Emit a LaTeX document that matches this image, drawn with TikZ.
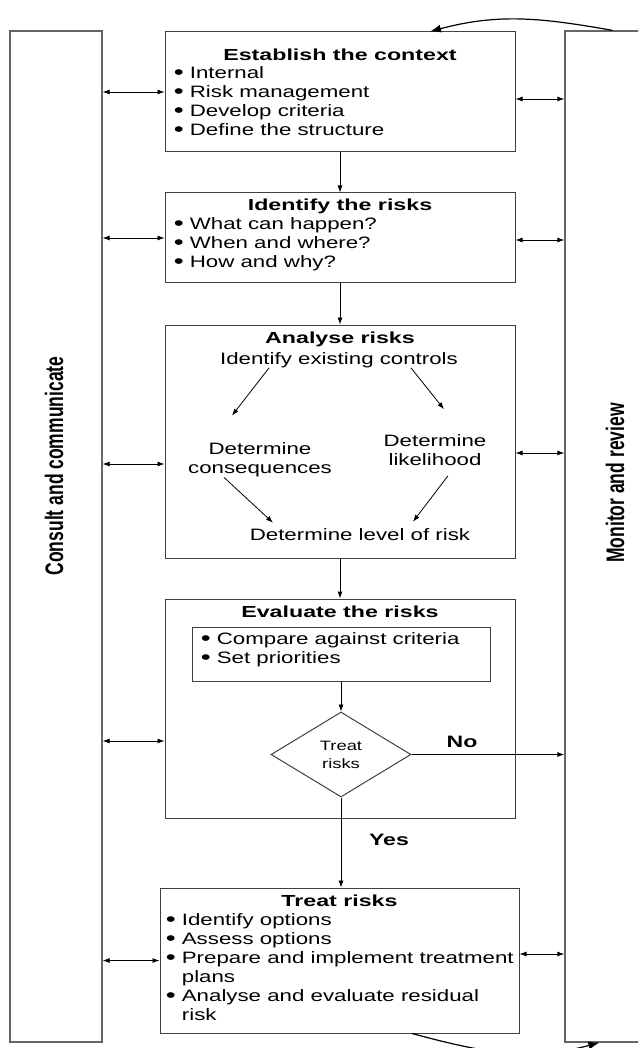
\documentclass[tikz,border=0pt]{standalone}
\usepackage{fontspec}
\setmainfont{Liberation Sans}
\usetikzlibrary{positioning,shapes.geometric,arrows.meta}

\newcommand\blt{\raisebox{-0.08em}{\fontsize{21}{19}\selectfont\textbullet}~}

\tikzset{
	sidebar/.style={draw=black!60, line width=1.3pt, fill=white, inner sep=0pt, minimum height=1011pt},
	sidelabel/.style={rotate=90, font=\bfseries\fontsize{17.5}{22}\selectfont, inner sep=0pt},
	stage/.style={draw=black!75, line width=1pt, inner sep=0pt, minimum width=350pt},
	head/.style={font=\bfseries\fontsize{16}{19}\selectfont, xscale=1.45, inner sep=0pt},
	items/.style={font=\fontsize{16.5}{19}\selectfont, xscale=1.35, align=left, inner sep=0pt},
	plain/.style={font=\fontsize{16.5}{19}\selectfont, xscale=1.35, align=center, inner sep=0pt},
	query/.style={diamond, draw=black!75, line width=1pt, inner sep=0pt, minimum width=140pt, minimum height=85pt},
	qtext/.style={font=\fontsize{13.6}{18}\selectfont, xscale=1.35, align=center, inner sep=0pt},
	answer/.style={font=\bfseries\fontsize{16.5}{19}\selectfont, xscale=1.4, inner sep=0pt},
	flow/.style={-{Latex[length=7pt,width=5pt]}, line width=0.8pt},
	link/.style={{Latex[length=7pt,width=5pt]}-{Latex[length=7pt,width=5pt]}, line width=0.8pt},
	loopback/.style={-{Latex[length=11pt,width=8pt]}, line width=1.2pt}
}

\begin{document}
\begin{tikzpicture}[x=1pt, y=-1pt]
				\clip (0,0) rectangle (638,1048);
				
				\node[sidebar, minimum width=92pt]                 (consult) at (56,536.5) {};
				\node[sidebar, minimum width=90pt]                 (review) at (610,536.5) {};
				\node[sidelabel]                                   (consult-t) at (54,466) {\scalebox{1}[1.45]{Consult and communicate}};
				\node[sidelabel]                                   (review-t) at (615,483) {\scalebox{1}[1.45]{Monitor and review}};
				
				\node[stage, minimum height=120pt]                 (ctx) at (340,92) {};
				\node[head, below=17pt of ctx.north]               (ctx-t) {Establish the context};
				\node[items, below right=35pt and 9pt of ctx.north west]    (ctx-l) {\blt Internal\\\blt Risk management\\\blt Develop criteria\\\blt Define the structure};
				
				\node[stage, minimum height=90pt]                  (ident) at (340,238) {};
				\node[head, below=6pt of ident.north]              (ident-t) {Identify the risks};
				\node[items, below right=25pt and 9pt of ident.north west]  (ident-l) {\blt What can happen?\\\blt When and where?\\\blt How and why?};
				
				\node[stage, minimum height=233pt]                 (ana) at (340,441.5) {};
				\node[head, below=7pt of ana.north]                (ana-t) {Analyse risks};
				\node[plain]                                       (idc) at (339,360) {Identify existing controls};
				\node[plain]                                       (dcon) at (260,460) {Determine\\consequences};
				\node[plain]                                       (dlik) at (435,450) {Determine\\likelihood};
				\node[plain]                                       (dlev) at (360,535) {Determine level of risk};
				
				\node[stage, minimum height=219pt]                 (eval) at (340,708.5) {};
				\node[head, below=7pt of eval.north]               (eval-t) {Evaluate the risks};
				\node[stage, minimum width=298pt, minimum height=54pt] (crit) at (341,654) {};
				\node[items, below right=6pt and 9pt of crit.north west]    (crit-l) {\blt Compare against criteria\\\blt Set priorities};
				\node[query]                                       (treatq) at (341,754.5) {};
				\node[qtext]                                       (treatq-t) at (treatq) {Treat\\risks};
				\node[answer]                                      (no) at (462,742) {No};
				\node[answer]                                      (yes) at (389,840) {Yes};
				
				\node[stage, minimum width=359pt, minimum height=145pt] (treat) at (339.5,960.5) {};
				\node[head, below=7pt of treat.north]              (treat-t) {Treat risks};
				\node[items, below right=26pt and 6pt of treat.north west]  (treat-l) {\blt Identify options\\\blt Assess options\\\blt Prepare and implement treatment\\\phantom{\blt}plans\\\blt Analyse and evaluate residual\\\phantom{\blt}risk};
				
				\draw[flow] (ctx) -- (ident);
				\draw[flow] (ident) -- (ana);
				\draw[flow] (ana) -- (eval);
				\draw[flow] (crit) -- (treatq);
				\draw[flow] (treatq.south) -- (treatq.south |- treat.north);
				\draw[flow] (treatq.east) -- (treatq.east -| review.west);
				
				\draw[flow] ([xshift=-70]idc.south) -- ([xshift=-28,yshift=27]dcon.north);
				\draw[flow] ([xshift=72]idc.south) -- ([xshift=9,yshift=25]dlik.north);
				\draw[flow] ([xshift=-36]dcon.south) -- ([xshift=-87,yshift=6]dlev.north);
				\draw[flow] ([xshift=13,yshift=-10]dlik.south) -- ([xshift=53,yshift=7]dlev.north);
				
				\draw[link] (ctx.west -| consult.east) -- (ctx.west);
				\draw[link] (ident.west -| consult.east) -- (ident.west);
				\draw[link] ([yshift=-22.5]ana.west -| consult.east) -- ([yshift=-22.5]ana.west);
				\draw[link] ([yshift=-32.5]eval.west -| consult.east) -- ([yshift=-32.5]eval.west);
				\draw[link] (treat.west -| consult.east) -- (treat.west);
				
				\draw[link] ([yshift=-7]ctx.east) -- ([yshift=-7]ctx.east -| review.west);
				\draw[link] ([yshift=-2]ident.east) -- ([yshift=-2]ident.east -| review.west);
				\draw[link] ([yshift=-11.5]ana.east) -- ([yshift=-11.5]ana.east -| review.west);
				\draw[link] ([yshift=6.5]treat.east) -- ([yshift=6.5]treat.east -| review.west);
				
				\draw[loopback] ([xshift=48]review.north west) to[out=170, in=15] ([xshift=90]ctx.north);
				\draw[loopback] ([xshift=72.5]treat.south) to[out=-15, in=195] ([xshift=35]review.south west);
				
			\end{tikzpicture}
\end{document}
